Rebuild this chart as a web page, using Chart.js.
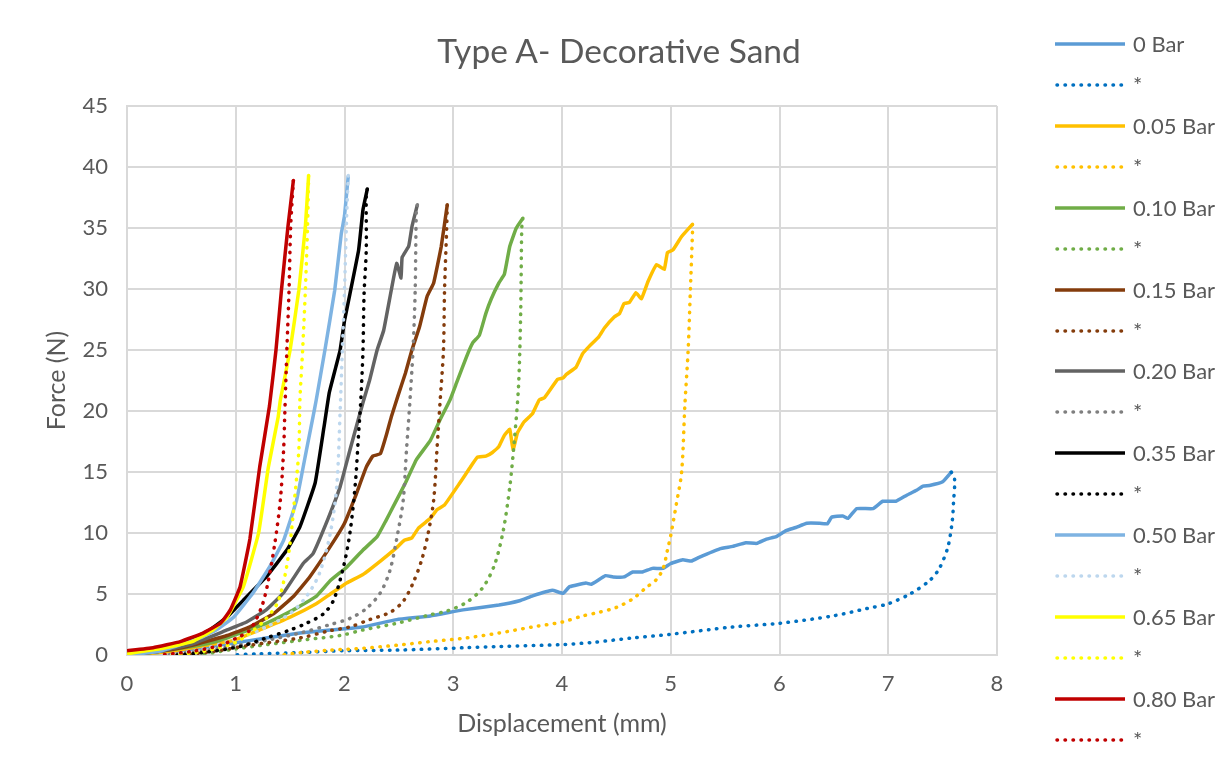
<!DOCTYPE html>
<html>
<head>
<meta charset="utf-8">
<script src="https://cdn.jsdelivr.net/npm/chart.js"></script>
<style>
  html, body { margin: 0; padding: 0; background: #fff; }
  #wrap { position: relative; width: 1223px; height: 769px; overflow: hidden; font-family: Lato, 'Open Sans', sans-serif; color: #595959; }
  #chart { position: absolute; left: 0; top: 0; }
  #title { position: absolute; left: 0; width: 1238px; top: 30px; line-height: 40px; text-align: center; font-size: 33.5px; font-weight: 400; }
  #legend { position: absolute; left: 1055px; top: 23.5px; }
  .item { height: 40.94px; display: flex; align-items: center; }
  .item svg { width: 72px; height: 8px; margin-right: 6px; }
  .item span { font-size: 22px; line-height: 22px; }
</style>
</head>
<body>
<div id="wrap">
  <canvas id="chart" width="1223" height="769"></canvas>
  <div id="title">Type A- Decorative Sand</div>
  <div id="legend"></div>
</div>
<script>
// Series names and colours
const pressures = ['0 Bar', '0.05 Bar', '0.10 Bar', '0.15 Bar', '0.20 Bar', '0.35 Bar', '0.50 Bar', '0.65 Bar', '0.80 Bar'];
const solidColors = ['#5B9BD5', '#FFC000', '#70AD47', '#843C0C', '#636363', '#000000', '#7EB3E2', '#FFFF00', '#C00000'];
const dotColors = ['#0070C0', '#FFC000', '#70AD47', '#843C0C', '#7F7F7F', '#000000', '#BDD7EE', '#FFFF00', '#C00000'];

// Axis ticks
const xTicks = [0, 1, 2, 3, 4, 5, 6, 7, 8];
const yTicks = [0, 5, 10, 15, 20, 25, 30, 35, 40, 45];

// Loading curves [displacement mm, force N]
const load0 = [[0,0],[0.3,0.2],[0.6,0.5],[1.0,1.0],[1.28,1.4],[1.59,1.8],[1.87,2.05],[2.17,2.3],[2.48,2.9],[2.79,3.2],[3.09,3.7],[3.42,4.1],[3.61,4.45],[3.73,4.85],[3.91,5.3],[4.01,5.06],[4.07,5.6],[4.22,5.9],[4.27,5.8],[4.40,6.5],[4.47,6.4],[4.57,6.4],[4.65,6.8],[4.74,6.8],[4.83,7.1],[4.93,7.1],[5.0,7.5],[5.11,7.8],[5.19,7.7],[5.26,8.0],[5.45,8.7],[5.57,8.9],[5.69,9.2],[5.79,9.15],[5.88,9.5],[5.97,9.7],[6.06,10.2],[6.15,10.45],[6.25,10.8],[6.37,10.8],[6.44,10.75],[6.48,11.3],[6.58,11.4],[6.63,11.2],[6.71,12.0],[6.86,12.0],[6.95,12.6],[7.07,12.6],[7.17,13.1],[7.26,13.5],[7.32,13.85],[7.38,13.9],[7.5,14.2],[7.58,15.0]];
const load005 = [[0,0],[0.3,0.2],[0.6,0.6],[0.98,1.2],[1.22,2.05],[1.5,3.1],[1.74,4.2],[1.87,5.0],[2.02,5.9],[2.17,6.6],[2.33,7.7],[2.48,8.8],[2.55,9.4],[2.62,9.6],[2.68,10.4],[2.79,11.2],[2.85,11.9],[2.92,12.3],[3.06,14.1],[3.15,15.3],[3.22,16.2],[3.3,16.3],[3.36,16.6],[3.42,17.1],[3.47,18.0],[3.52,18.5],[3.55,16.8],[3.59,18.2],[3.65,19.1],[3.73,19.8],[3.79,20.9],[3.84,21.1],[3.96,22.6],[4.01,22.7],[4.04,23.0],[4.13,23.6],[4.19,24.7],[4.25,25.3],[4.34,26.1],[4.39,26.8],[4.48,27.7],[4.53,28.0],[4.57,28.8],[4.62,28.9],[4.68,29.7],[4.73,29.2],[4.79,30.6],[4.87,32.0],[4.94,31.6],[4.97,33.0],[5.02,33.2],[5.10,34.3],[5.20,35.3]];
const load010 = [[0,0],[0.3,0.3],[0.6,0.7],[0.82,1.1],[1.04,1.8],[1.28,2.6],[1.53,3.7],[1.74,4.8],[1.87,6.1],[2.02,7.2],[2.17,8.6],[2.3,9.7],[2.38,11.0],[2.45,12.2],[2.56,14.1],[2.66,16.0],[2.79,17.6],[2.88,19.3],[2.97,20.9],[3.03,22.3],[3.12,24.4],[3.18,25.6],[3.24,26.2],[3.3,28.0],[3.35,29.2],[3.42,30.5],[3.47,31.2],[3.52,33.5],[3.58,35.0],[3.64,35.8]];
const load015 = [[0,0],[0.3,0.3],[0.6,0.8],[0.92,1.6],[1.13,2.3],[1.35,3.4],[1.53,4.8],[1.68,6.4],[1.87,8.9],[2.0,10.8],[2.1,13.0],[2.2,15.4],[2.26,16.3],[2.33,16.5],[2.39,18.2],[2.43,19.5],[2.49,21.2],[2.56,23.1],[2.62,25.0],[2.69,26.9],[2.76,29.4],[2.82,30.5],[2.89,33.5],[2.945,36.9]];
const load020 = [[0,0],[0.3,0.3],[0.6,0.9],[0.92,2.05],[1.10,2.7],[1.28,3.7],[1.44,5.1],[1.62,7.5],[1.71,8.3],[1.85,11.2],[1.96,13.8],[2.05,16.8],[2.17,20.7],[2.23,22.5],[2.30,25.0],[2.36,26.6],[2.43,29.9],[2.48,32.1],[2.52,30.9],[2.53,32.6],[2.59,33.5],[2.62,35.1],[2.67,36.9]];
const load035 = [[0,0.1],[0.3,0.4],[0.55,1.1],[0.76,2.05],[0.92,3.1],[1.07,4.5],[1.28,6.4],[1.47,8.6],[1.59,10.5],[1.73,14.1],[1.81,18.6],[1.86,21.5],[1.92,23.6],[1.96,25.0],[2.0,27.4],[2.05,29.6],[2.13,33.2],[2.17,36.5],[2.21,38.2]];
const load050 = [[0,0],[0.3,0.3],[0.67,1.4],[0.82,2.05],[0.98,3.1],[1.16,5.1],[1.31,7.2],[1.44,9.4],[1.56,12.7],[1.65,16.8],[1.71,19.5],[1.74,20.9],[1.82,25.0],[1.91,29.9],[1.97,34.5],[2.0,36.0],[2.035,39.3]];
const load065 = [[0,0.1],[0.3,0.5],[0.6,1.1],[0.79,2.05],[0.92,3.1],[1.07,5.6],[1.21,10.0],[1.30,15.4],[1.39,19.5],[1.41,20.9],[1.50,25.0],[1.58,29.9],[1.64,35.1],[1.67,39.3]];
const load080 = [[0,0.35],[0.24,0.6],[0.49,1.1],[0.70,1.8],[0.86,2.6],[0.95,3.7],[1.04,5.6],[1.13,9.5],[1.22,15.4],[1.31,20.4],[1.37,25.0],[1.42,29.9],[1.48,35.1],[1.53,38.9]];

// Unloading curves (the "*" series)
const unload0 = [[7.58,15.0],[7.61,14.4],[7.6,12.5],[7.59,11.1],[7.55,8.9],[7.47,7.1],[7.38,6.1],[7.2,5.0],[7.0,4.2],[6.8,3.8],[6.49,3.2],[6.0,2.6],[5.57,2.3],[5.0,1.7],[4.65,1.4],[4.3,1.05],[4.0,0.85],[3.42,0.7],[3.12,0.6],[2.48,0.4],[2.0,0.35],[1.59,0.2],[1.2,0.1],[0.98,0.0]];
const unload005 = [[5.2,35.3],[5.2,34.7],[5.18,29.8],[5.16,25.0],[5.13,20.5],[5.1,15.0],[5.05,12.3],[5.0,9.8],[4.97,8.6],[4.93,7.1],[4.87,6.2],[4.77,5.5],[4.65,4.6],[4.5,3.9],[4.34,3.5],[4.19,3.2],[4.0,2.7],[3.73,2.3],[3.42,1.8],[3.12,1.4],[2.79,1.1],[2.48,0.8],[2.17,0.55],[1.87,0.4],[1.6,0.2],[1.42,0.0]];
const unload010 = [[3.64,35.8],[3.63,35.0],[3.62,28.0],[3.6,22.0],[3.56,17.4],[3.52,13.8],[3.46,10.2],[3.38,7.4],[3.27,5.5],[3.12,4.3],[2.94,3.6],[2.79,3.3],[2.48,2.6],[2.17,2.05],[1.96,1.6],[1.59,1.2],[1.0,0.5],[0.67,0.0]];
const unload015 = [[2.945,36.9],[2.94,35.1],[2.92,29.9],[2.91,25.0],[2.88,20.9],[2.85,16.8],[2.82,12.7],[2.77,10.0],[2.71,7.8],[2.63,5.9],[2.54,4.4],[2.42,3.5],[2.23,2.9],[2.05,2.3],[1.87,2.0],[1.59,1.4],[1.13,0.8],[0.8,0.3],[0.5,0.0]];
const unload020 = [[2.67,36.9],[2.66,36.2],[2.65,29.9],[2.63,25.0],[2.6,20.6],[2.57,16.8],[2.54,12.7],[2.49,10.0],[2.42,7.0],[2.33,5.1],[2.2,3.8],[2.05,3.0],[1.87,2.5],[1.59,1.8],[1.28,1.2],[1.0,0.76],[0.7,0.35],[0.36,0.0]];
const unload035 = [[2.21,38.2],[2.2,37.6],[2.2,33.2],[2.18,29.6],[2.17,25.0],[2.15,20.9],[2.13,18.2],[2.10,14.1],[2.05,10.0],[1.99,7.2],[1.9,4.5],[1.81,3.4],[1.65,2.6],[1.5,2.05],[1.28,1.4],[1.04,0.7],[0.7,0.2],[0.45,0.0]];
const unload050 = [[2.035,39.3],[2.02,36.0],[2.0,29.9],[1.98,25.0],[1.96,20.0],[1.93,14.0],[1.87,10.0],[1.77,6.7],[1.65,4.8],[1.50,3.4],[1.28,2.3],[1.07,1.5],[0.7,0.5],[0.4,0.0]];
const unload065 = [[1.67,39.3],[1.66,35.1],[1.64,29.9],[1.615,25.0],[1.59,20.9],[1.58,16.8],[1.54,12.7],[1.50,9.2],[1.45,6.4],[1.38,4.2],[1.27,2.9],[1.13,1.8],[0.98,0.96],[0.7,0.3],[0.4,0.0]];
const unload080 = [[1.53,38.9],[1.505,35.1],[1.49,29.9],[1.47,25.0],[1.45,19.5],[1.44,16.8],[1.41,12.7],[1.36,9.2],[1.30,6.1],[1.24,4.0],[1.13,2.05],[1.01,1.4],[0.86,0.8],[0.6,0.3],[0.3,0.0]];

const loads = [load0, load005, load010, load015, load020, load035, load050, load065, load080];
const unloads = [unload0, unload005, unload010, unload015, unload020, unload035, unload050, unload065, unload080];

const textColor = '#595959';
const gridColor = '#D9D9D9';
const fontFamily = 'Lato, "Open Sans", sans-serif';
const dotDash = [0.5, 7.5];

// Build datasets: solid loading line followed by its dotted "*" line
const datasets = [];
pressures.forEach((name, i) => {
  datasets.push({
    label: name,
    data: loads[i].map(p => ({ x: p[0], y: p[1] })),
    borderColor: solidColors[i],
    borderWidth: 3.5,
    tension: 0.1,
    borderJoinStyle: 'round'
  });
  datasets.push({
    label: '*',
    data: unloads[i].map(p => ({ x: p[0], y: p[1] })),
    borderColor: dotColors[i],
    borderWidth: 3.5,
    borderDash: dotDash,
    borderCapStyle: 'round',
    tension: 0.3
  });
});
// Excel paints later series on top
datasets.forEach((ds, i) => {
  ds.order = datasets.length - i;
  ds.showLine = true;
  ds.pointRadius = 0;
  ds.fill = false;
});

const chart = new Chart(document.getElementById('chart').getContext('2d'), {
  type: 'scatter',
  data: { datasets: datasets },
  options: {
    responsive: false,
    animation: false,
    layout: { padding: { left: 0, top: 106, right: 226, bottom: 0 } },
    plugins: {
      legend: { display: false },
      title: { display: false },
      tooltip: { enabled: false }
    },
    scales: {
      x: {
        type: 'linear',
        min: xTicks[0],
        max: xTicks[xTicks.length - 1],
        afterBuildTicks: scale => { scale.ticks = xTicks.map(v => ({ value: v })); },
        afterFit: scale => { scale.height = 114; },
        ticks: { color: textColor, font: { family: fontFamily, size: 22 }, padding: 16 },
        grid: { color: gridColor, lineWidth: 2, drawTicks: false },
        border: { color: gridColor, width: 2 },
        title: {
          display: true,
          text: 'Displacement (mm)',
          color: textColor,
          font: { family: fontFamily, size: 25 },
          padding: { top: 0, bottom: 30 }
        }
      },
      y: {
        type: 'linear',
        min: yTicks[0],
        max: yTicks[yTicks.length - 1],
        afterBuildTicks: scale => { scale.ticks = yTicks.map(v => ({ value: v })); },
        afterFit: scale => { scale.width = 127; },
        ticks: { color: textColor, font: { family: fontFamily, size: 22 }, padding: 19 },
        grid: { color: gridColor, lineWidth: 2, drawTicks: false },
        border: { color: gridColor, width: 2 },
        title: {
          display: true,
          text: 'Force (N)',
          color: textColor,
          font: { family: fontFamily, size: 25 },
          padding: { top: 42, bottom: 0 }
        }
      }
    }
  }
});

// HTML legend built from the datasets
const legendEl = document.getElementById('legend');
chart.data.datasets.forEach(ds => {
  const row = document.createElement('div');
  row.className = 'item';
  const dash = ds.borderDash ? `stroke-dasharray="${ds.borderDash.join(' ')}" stroke-linecap="round"` : '';
  const x1 = ds.borderDash ? 2 : 0;
  row.innerHTML = `
    <svg viewBox="0 0 72 8"><line x1="${x1}" y1="4" x2="70" y2="4" stroke="${ds.borderColor}" stroke-width="3.5" ${dash}/></svg>
    <span>${ds.label}</span>`;
  legendEl.appendChild(row);
});
</script>
</body>
</html>
